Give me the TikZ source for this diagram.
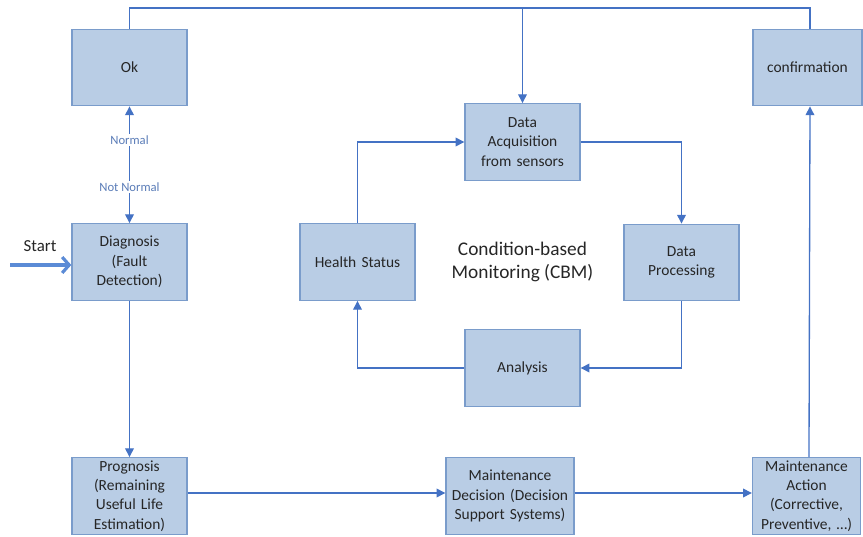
\documentclass[tikz,border=0pt]{standalone}
\usepackage{fontspec}
\setmainfont{Carlito}
\usetikzlibrary{arrows.meta}
\definecolor{boxfill}{HTML}{B9CDE5}
\definecolor{boxline}{HTML}{7A9CCB}
\definecolor{linkblue}{HTML}{4472C4}
\definecolor{starblue}{HTML}{5B8BD6}
\definecolor{txtgray}{HTML}{262626}
\definecolor{lblblue}{HTML}{5B7DB8}
\tikzset{
  block/.style={draw=boxline,fill=boxfill,line width=0.8pt,inner sep=0pt,
    minimum width=2.3cm,minimum height=1.53cm,text width=2.2cm,align=center,
    text=txtgray,font=\fontsize{8.8}{11}\selectfont},
  link/.style={draw=linkblue,line width=0.75pt,-{Triangle[width=5pt,length=5pt]}},
  plain/.style={draw=linkblue,line width=0.75pt},
  lbl/.style={fill=white,inner sep=1pt,text=lblblue,font=\fontsize{7.2}{8}\selectfont}
}
\begin{document}
\begin{tikzpicture}[x=0.02cm,y=-0.02cm]
  \useasboundingbox (0,0) rectangle (863,537);
  % left column
  \node[block] (ok) at (129.5,67.5) {Ok};
  \node[block] (diag) at (129.5,262) {Diagnosis\\(Fault\\Detection)};
  \node[block] (prog) at (129.5,496) {Prognosis\\(Remaining\\Useful Life\\Estimation)};
  % cbm loop
  \node[block] (acq) at (522.5,142) {Data\\Acquisition\\from sensors};
  \node[block] (health) at (357.5,262) {Health Status};
  \node[block] (proc) at (681.5,262.5) {Data\\Processing};
  \node[block] (ana) at (522.5,368) {Analysis};
  \node[text=txtgray,align=center,font=\fontsize{11}{13.2}\selectfont] (cbm) at (522.5,262)
    {Condition-based\\Monitoring (CBM)};
  % bottom row and right column
  \node[block,minimum width=2.56cm,text width=2.5cm] (decision) at (510,496)
    {Maintenance\\Decision (Decision\\Support Systems)};
  \node[block,minimum width=2.16cm,text width=2.1cm] (action) at (806.5,496)
    {Maintenance\\Action\\(Corrective,\\Preventive, \ldots)};
  \node[block,minimum width=2.18cm,text width=2.1cm] (conf) at (807.5,67.5) {confirmation};
  % start
  \coordinate (startpt) at (10,265);
  \draw[starblue,line width=1.8pt,-{Straight Barb[length=4pt,width=9pt]}] (startpt) -- (startpt -| diag.west);
  \node[text=txtgray,font=\fontsize{9.6}{11}\selectfont] (start) at (40,246) {Start};
  % connectors
  \coordinate (topmid) at (522.5,8);
  \draw[plain] (ok.north) |- (topmid) -| ([xshift=0.05cm]conf.north);
  \draw[link] (topmid) -- (acq.north);
  \draw[link,{Triangle[width=5pt,length=5pt]}-{Triangle[width=5pt,length=5pt]}] (ok) -- (diag)
    node[lbl,pos=0.29] (normal) {Normal}
    node[lbl,pos=0.69] (notnormal) {Not Normal};
  \draw[link] (diag) -- (prog);
  \draw[link] ([yshift=0.06cm]prog.east) -- ([yshift=0.06cm]decision.west);
  \draw[link] ([yshift=0.06cm]decision.east) -- ([yshift=0.06cm]action.west);
  \draw[link] ([xshift=0.05cm]action.north) -- ([xshift=0.05cm]conf.south);
  \draw[link] (acq.east) -| (proc.north);
  \draw[link] (proc.south) |- (ana.east);
  \draw[link] (ana.west) -| (health.south);
  \draw[link] (health.north) |- (acq.west);
\end{tikzpicture}
\end{document}
